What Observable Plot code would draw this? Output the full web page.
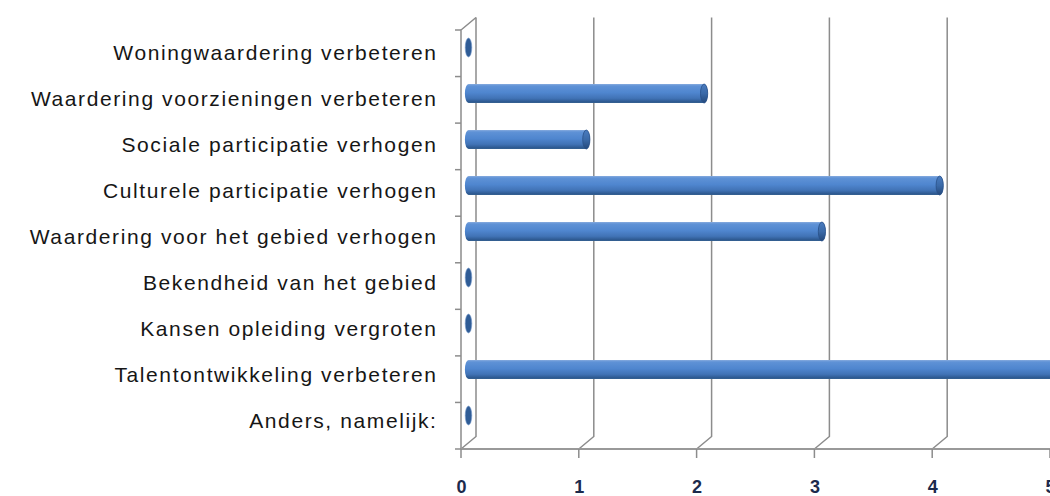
<!DOCTYPE html>
<html><head><meta charset="utf-8">
<script src="https://cdn.jsdelivr.net/npm/d3@7"></script>
<script src="https://cdn.jsdelivr.net/npm/@observablehq/plot@0.6"></script>
<style>
body{margin:0;background:#fff;}
#chart svg{display:block;background:#fff;}
</style>
</head><body><div id="chart"></div>
<script>
const categories = [
  "Woningwaardering verbeteren",
  "Waardering voorzieningen verbeteren",
  "Sociale participatie verhogen",
  "Culturele participatie verhogen",
  "Waardering voor het gebied verhogen",
  "Bekendheid van het gebied",
  "Kansen opleiding vergroten",
  "Talentontwikkeling verbeteren",
  "Anders, namelijk:"
];
const values = [0, 2, 1, 4, 3, 0, 0, 5, 0];
const xTicks = [0, 1, 2, 3, 4, 5];

const data = categories.map((c, i) => ({category: c, value: values[i]}));

const DX = 15, DY = -12.5;          // 3D depth offset (px)
const gridColor = "#8c8c8c";

function walls(index, scales, vals, dims) {
  const x = scales.x;
  const top = dims.marginTop, bottom = dims.height - dims.marginBottom;
  const n = categories.length, bw = (bottom - top) / n;
  const g = d3.create("svg:g").attr("fill", "none").attr("stroke", gridColor).attr("stroke-width", 1.5);
  for (const t of xTicks) {
    const x0 = x(t);
    g.append("path").attr("d", `M${x0},${bottom}L${x0 + DX},${bottom + DY}L${x0 + DX},${top + DY}`);
  }
  const x0 = x(0);
  g.append("path").attr("d", `M${x0},${bottom}L${x0},${top}L${x0 + DX},${top + DY}`);
  for (let i = 0; i <= n; i++) {
    const yy = top + i * bw;
    g.append("path").attr("d", `M${x0 - 6},${yy}H${x0}`);
  }
  g.append("path").attr("d", `M${x0},${bottom}H${dims.width}`).attr("stroke-width", 2.2).attr("stroke", "#999");
  for (const t of xTicks) {
    g.append("path").attr("d", `M${x(t)},${bottom}V${bottom + 9}`);
  }
  return g.node();
}

function cylinders(index, scales, vals, dims) {
  const x = scales.x;
  const top = dims.marginTop, bottom = dims.height - dims.marginBottom;
  const n = categories.length, bw = (bottom - top) / n;
  const g = d3.create("svg:g");
  const defs = g.append("defs");
  const gb = defs.append("linearGradient").attr("id", "cylBody").attr("x1", 0).attr("y1", 0).attr("x2", 0).attr("y2", 1);
  [[0, "#86abde"], [0.1, "#5f92d6"], [0.45, "#4f86cf"], [0.75, "#4173b6"], [0.92, "#2f5b93"], [1, "#35608f"]]
    .forEach(([o, c]) => gb.append("stop").attr("offset", o).attr("stop-color", c));
  const gc = defs.append("linearGradient").attr("id", "cylCap").attr("x1", 0).attr("y1", 0).attr("x2", 0).attr("y2", 1);
  [[0, "#4a7cc0"], [0.5, "#3b6aa8"], [1, "#24497b"]]
    .forEach(([o, c]) => gc.append("stop").attr("offset", o).attr("stop-color", c));
  const ry = 9.5, rx = 3.6;
  data.forEach(d => {
    const cy = scales.y(d.category) + bw / 2 + DY / 2 - 2.5;
    const x0 = x(0) + DX / 2, x1 = x(d.value) + DX / 2;
    if (d.value > 0) {
      g.append("path")
        .attr("d", `M${x0},${cy - ry}H${x1}A${rx},${ry} 0 0 1 ${x1},${cy + ry}H${x0}A${rx},${ry} 0 0 1 ${x0},${cy - ry}Z`)
        .attr("fill", "url(#cylBody)");
      g.append("ellipse").attr("cx", x1).attr("cy", cy).attr("rx", rx).attr("ry", ry)
        .attr("fill", "url(#cylCap)").attr("stroke", "#2a5088").attr("stroke-width", 0.8);
    } else {
      g.append("ellipse").attr("cx", x0).attr("cy", cy).attr("rx", 3.3).attr("ry", 9.5)
        .attr("fill", "#2f5c96").attr("stroke", "#7d9fcf").attr("stroke-width", 0.6);
    }
  });
  return g.node();
}

const chart = Plot.plot({
  width: 1050,
  height: 496,
  marginLeft: 461,
  marginRight: 0,
  marginTop: 30,
  marginBottom: 47,
  style: {fontFamily: "'Liberation Sans', Arial, sans-serif", background: "#fff"},
  x: {domain: [0, 5], axis: null},
  y: {type: "band", domain: categories, padding: 0, axis: null},
  marks: [
    walls,
    cylinders,
    Plot.axisY({tickSize: 0, tickPadding: 24, dy: -3, fontSize: 21, fill: "#161616"}),
    Plot.axisX({ticks: xTicks, tickSize: 0, tickPadding: 31, fontSize: 18, fontWeight: "bold", fill: "#1c2a4c", tickFormat: d => String(d)})
  ]
});
chart.querySelectorAll('g[aria-label="y-axis tick label"] text').forEach(t => t.style.letterSpacing = "1.6px");
document.getElementById("chart").appendChild(chart);
</script>
</body></html>
